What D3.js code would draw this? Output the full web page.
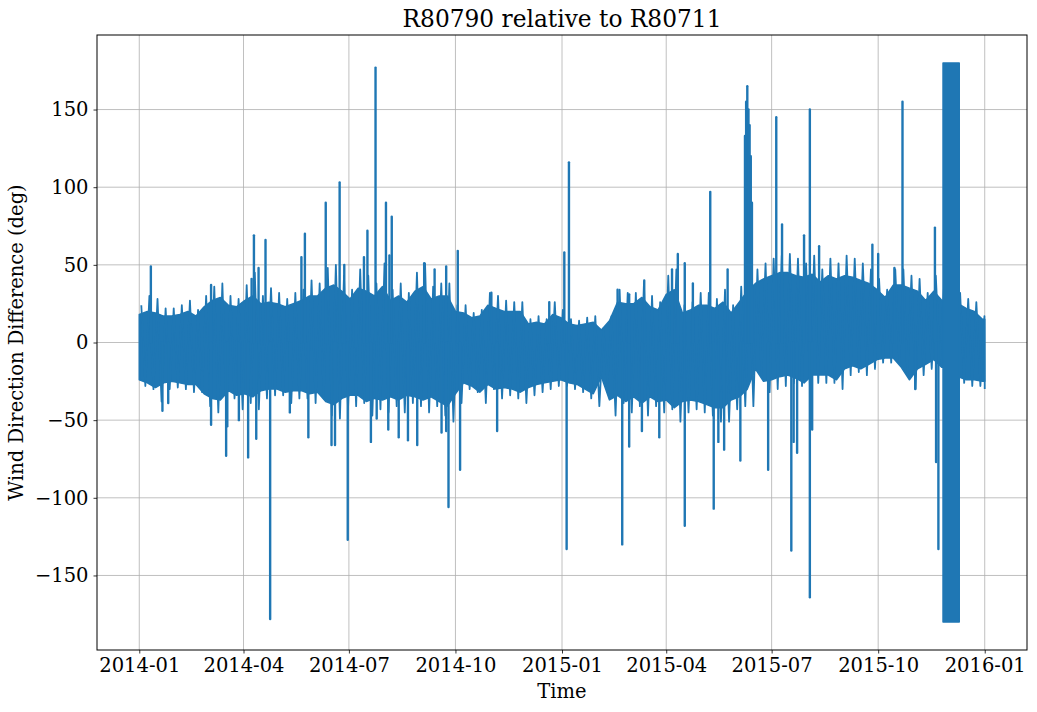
<!DOCTYPE html>
<html>
<head>
<meta charset="utf-8">
<script src="https://cdn.jsdelivr.net/npm/d3@7"></script>
<style>
  body { margin: 0; background: #fff; }
  svg text { font-family: "DejaVu Serif", serif; fill: #000; }
</style>
</head>
<body>
<svg id="chart" width="1037" height="712"></svg>
<script>
// Data. Days are counted from 2014-01-01.
var startDate = new Date(2014, 0, 1);
var lastDay = 730;

// visually solid part of the band, one value every 7 days (last one at day 730)
var coreHigh = [
  18, 20, 19, 17, 17, 18, 20, 17,
  23, 27, 29, 24, 23, 27, 30, 25, 26, 25, 23, 25, 27, 30,
  30, 35, 37, 33, 28, 35, 33, 30, 36, 27, 30, 26, 33, 36, 28, 30, 30,
  20, 19, 16, 17, 24, 22, 20, 20, 20,
  12, 13, 12, 18, 16, 12, 11, 12, 13, 8,
  14, 26, 25, 25, 29, 23, 21, 31, 34, 19, 21, 24, 24, 22, 26, 19, 26,
  33, 38, 41, 43, 45, 45, 43, 42, 44, 39, 43, 41, 43, 42, 40, 38,
  34, 29, 37, 37, 35, 33, 27, 33,
  27, 27, 25, 22, 20, 15, 15
];
var coreLow = [
  -24, -26, -29, -26, -25, -26, -27, -27,
  -33, -36, -37, -31, -34, -33, -35, -31, -30, -30, -32, -31, -31, -33,
  -32, -38, -40, -36, -34, -34, -38, -36, -37, -35, -37, -34, -35, -37, -35, -38, -41,
  -33, -26, -28, -32, -27, -30, -29, -30, -32,
  -29, -27, -26, -25, -24, -26, -27, -30, -33, -22,
  -37, -34, -38, -35, -39, -35, -38, -37, -42, -38, -37, -38, -40, -42, -42, -37, -35,
  -30, -17, -25, -24, -22, -21, -23, -26, -21, -21, -21, -24, -17, -15, -17, -14,
  -11, -10, -10, -16, -24, -17, -14, -11,
  -16, -16, -22, -24, -24, -25, -25
];

// weekly extremes of the ragged edges (105 weeks)
var peakHigh = [
  24, 30, 28, 22, 22, 24, 27, 21, 30, 36,
  38, 30, 28, 37, 45, 30, 35, 32, 28, 32,
  34, 40, 38, 48, 50, 43, 34, 47, 43, 38,
  51, 34, 38, 32, 45, 51, 36, 38, 38, 24,
  24, 19, 21, 32, 30, 27, 26, 26, 15, 17,
  15, 26, 21, 15, 14, 16, 17, 9, 17, 34,
  32, 32, 38, 30, 26, 43, 47, 24, 26, 32,
  32, 28, 34, 24, 36, 43, 47, 51, 54, 56,
  57, 54, 51, 56, 47, 54, 51, 56, 54, 51,
  47, 41, 34, 47, 47, 43, 41, 32, 43, 35,
  35, 32, 28, 26, 17
];
var peakLow = [
  -28, -30, -38, -30, -29, -30, -32, -32, -41, -45,
  -46, -36, -43, -39, -43, -36, -34, -34, -39, -36,
  -36, -39, -36, -47, -49, -43, -41, -39, -47, -43,
  -45, -41, -45, -39, -41, -45, -41, -47, -51, -39,
  -30, -32, -39, -30, -36, -34, -36, -39, -34, -32,
  -30, -28, -28, -30, -32, -36, -41, -26, -47, -39,
  -45, -41, -47, -41, -45, -43, -51, -45, -43, -45,
  -47, -51, -51, -43, -41, -41, -21, -32, -30, -28,
  -26, -28, -32, -26, -26, -26, -30, -21, -19, -21,
  -17, -13, -13, -13, -21, -30, -21, -17, -13, -20,
  -20, -26, -28, -28, -30
];

// single excursions outside the band
var spikeDays = [
  10, 20, 25, 62, 62, 75, 76, 86, 94, 97,
  99, 101, 103, 109, 113, 130, 140, 143, 146, 161,
  166, 169, 173, 177, 180, 194, 197, 200, 204, 205,
  213, 215, 216, 218, 224, 232, 240, 246, 255, 261,
  265, 265, 267, 275, 277, 304, 309, 354, 367, 369,
  371, 413, 417, 423, 423, 434, 436, 449, 460, 465,
  471, 471, 478, 493, 496, 500, 505, 508, 519, 523,
  524, 525, 526, 527, 528, 529, 543, 550, 555, 563,
  565, 568, 574, 579, 579, 581, 587, 633, 638, 652,
  659, 670, 687, 688, 690
];
var spikeValues = [
  49, -44, -39, 37, -53, -73, -54, -50, -74, 41,
  69, -62, 48, 66, -178, -45, 55, 70, -61, 90,
  -66, -66, 103, 50, -127, 55, 72, -64, 177, -49,
  90, -56, 56, 81, -61, -63, -66, 51, 47, -58,
  49, -57, -106, 59, -82, 32, -57, 26, 58, -133,
  116, 34, -130, -67, 31, -57, 40, -61, 47, 57,
  51, -118, 38, 97, -107, -64, -69, 47, -76, 133,
  155, 165, 150, 140, 120, 90, -82, 145, 76, -134,
  -64, -71, 69, 150, -164, -56, 62, 63, 57, 48,
  155, -30, 74, -77, -133
];

// late-2015 stretch where the difference flips between +180 and -180
var flipDays = [694, 708];
var flipRange = [-180, 180];

var yTicks = [-150, -100, -50, 0, 50, 100, 150];
var xTickDates = ["2014-01", "2014-04", "2014-07", "2014-10", "2015-01",
                  "2015-04", "2015-07", "2015-10", "2016-01"];

var lineColor = "#1f77b4";

// layout
var margin = {left: 97, top: 35, right: 10, bottom: 62};
var W = 1037, H = 712;
var innerW = W - margin.left - margin.right;
var innerH = H - margin.top - margin.bottom;

function dayToDate(d){ return new Date(+startDate + d * 864e5); }

var t0 = startDate, t1 = dayToDate(lastDay);
var pad = (t1 - t0) * 0.05;
var x = d3.scaleTime()
  .domain([new Date(+t0 - pad), new Date(+t1 + pad)])
  .range([0, innerW]);
var y = d3.scaleLinear().domain([-198, 198]).range([innerH, 0]);

var svg = d3.select("#chart");
var g = svg.append("g").attr("transform", "translate(" + margin.left + "," + margin.top + ")");

var parseMonth = d3.timeParse("%Y-%m");
var tickDates = xTickDates.map(parseMonth);

// grid
g.append("g").selectAll("line").data(tickDates).enter().append("line")
  .attr("x1", function(d){ return x(d); }).attr("x2", function(d){ return x(d); })
  .attr("y1", 0).attr("y2", innerH)
  .attr("stroke", "#b0b0b0").attr("stroke-width", 0.8);
g.append("g").selectAll("line").data(yTicks).enter().append("line")
  .attr("x1", 0).attr("x2", innerW)
  .attr("y1", function(d){ return y(d); }).attr("y2", function(d){ return y(d); })
  .attr("stroke", "#b0b0b0").attr("stroke-width", 0.8);

var plot = g.append("g");

// solid core
var coreDays = d3.range(0, lastDay, 7).concat([lastDay]);
var coreData = coreDays.map(function(d, i){ return {day: d, hi: coreHigh[i], lo: coreLow[i]}; });
var area = d3.area()
  .x(function(d){ return x(dayToDate(d.day)); })
  .y0(function(d){ return y(d.lo); })
  .y1(function(d){ return y(d.hi); });
plot.append("path").datum(coreData)
  .attr("d", area)
  .attr("fill", lineColor)
  .attr("stroke", lineColor).attr("stroke-width", 1.5).attr("stroke-linejoin", "round");

// ragged edges: the trace swings from the weekly high to the weekly low
var combPts = [];
peakHigh.forEach(function(h, i){
  combPts.push([dayToDate(Math.min(7 * i + 1.75, lastDay)), h]);
  combPts.push([dayToDate(Math.min(7 * i + 5.25, lastDay)), peakLow[i]]);
});
var line = d3.line().x(function(p){ return x(p[0]); }).y(function(p){ return y(p[1]); });
plot.append("path").datum(combPts)
  .attr("d", line)
  .attr("fill", "none")
  .attr("stroke", lineColor).attr("stroke-width", 1.8).attr("stroke-linejoin", "round");

// spikes
var spikeData = spikeDays.map(function(d, i){ return {day: d, v: spikeValues[i]}; });
plot.selectAll(".spike").data(spikeData).enter().append("path")
  .attr("class", "spike")
  .attr("d", function(d){ return line([[dayToDate(d.day), 0], [dayToDate(d.day), d.v]]); })
  .attr("fill", "none")
  .attr("stroke", lineColor).attr("stroke-width", 2.4).attr("stroke-linecap", "round");

// flip block
plot.append("rect")
  .attr("x", x(dayToDate(flipDays[0])))
  .attr("width", x(dayToDate(flipDays[1])) - x(dayToDate(flipDays[0])))
  .attr("y", y(flipRange[1]))
  .attr("height", y(flipRange[0]) - y(flipRange[1]))
  .attr("fill", lineColor)
  .attr("stroke", lineColor).attr("stroke-width", 1.5).attr("stroke-linejoin", "round");

// axes
var xAxis = d3.axisBottom(x).tickValues(tickDates)
  .tickFormat(d3.timeFormat("%Y-%m")).tickSize(3.5).tickPadding(5);
var yAxis = d3.axisLeft(y).tickValues(yTicks)
  .tickFormat(function(d){ return d < 0 ? "\u2212" + Math.abs(d) : d; })
  .tickSize(3.5).tickPadding(5);

var gx = g.append("g").attr("transform", "translate(0," + innerH + ")").call(xAxis);
var gy = g.append("g").call(yAxis);
[gx, gy].forEach(function(a){
  a.select(".domain").remove();
  a.selectAll("line").attr("stroke", "#000").attr("stroke-width", 0.8);
  a.selectAll("text").style("font-family", "DejaVu Serif").style("font-size", "19.5px").attr("fill", "#000");
});

// frame
g.append("rect").attr("x", 0).attr("y", 0).attr("width", innerW).attr("height", innerH)
  .attr("fill", "none").attr("stroke", "#000").attr("stroke-width", 1);

// labels
svg.append("text").attr("x", margin.left + innerW / 2).attr("y", 27)
  .attr("text-anchor", "middle").style("font-size", "23.3px")
  .text("R80790 relative to R80711");
svg.append("text").attr("x", margin.left + innerW / 2).attr("y", 698)
  .attr("text-anchor", "middle").style("font-size", "19.5px").text("Time");
svg.append("text")
  .attr("transform", "translate(23," + (margin.top + innerH / 2) + ") rotate(-90)")
  .attr("text-anchor", "middle").style("font-size", "19.5px")
  .text("Wind Direction Difference (deg)");
</script>
</body>
</html>
